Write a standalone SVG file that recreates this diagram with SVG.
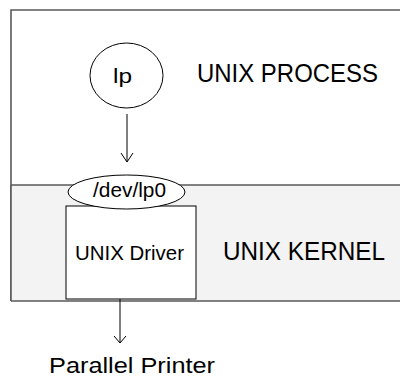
<svg xmlns="http://www.w3.org/2000/svg" width="400" height="378" viewBox="0 0 400 378">
  <style>
    .frame { fill: none; stroke: #5a5a5a; stroke-width: 1.6; }
    .node { fill: #ffffff; stroke: #000000; stroke-width: 1; }
    .wire { fill: none; stroke: #000000; stroke-width: 1; }
    .head { fill: none; stroke: #000000; stroke-width: 1; }
    text { font-family: "Liberation Sans", Arial, sans-serif; fill: #000000; }
  </style>

  <!-- process area and kernel band -->
  <g id="process-area">
    <rect x="11" y="10" width="400" height="175" fill="#ffffff"/>
    <path class="frame" d="M 400 10 H 11 V 301"/>
    <text x="197" y="82" font-size="26" textLength="181" lengthAdjust="spacingAndGlyphs">UNIX PROCESS</text>
  </g>
  <g id="kernel-area">
    <rect x="11" y="185" width="400" height="116" fill="#f3f3f3"/>
    <path class="frame" d="M 11 185 H 400 M 11 301 H 400 M 11 185 V 301"/>
    <text x="223" y="260" font-size="25.5" textLength="162" lengthAdjust="spacingAndGlyphs">UNIX KERNEL</text>
  </g>

  <!-- connectors -->
  <g id="connectors">
    <line class="wire" x1="127" y1="114" x2="127" y2="162"/>
    <polyline class="head" points="121,153 127,162 133,153"/>
    <line class="wire" x1="120" y1="299" x2="120" y2="343"/>
    <polyline class="head" points="114,336 120,343 126,336"/>
  </g>

  <g id="lp">
    <ellipse class="node" cx="126.5" cy="75.5" rx="36.5" ry="32.5"/>
    <text x="113" y="83" font-size="20" textLength="19" lengthAdjust="spacingAndGlyphs">lp</text>
  </g>

  <g id="unix-driver">
    <rect class="node" x="66" y="206" width="130" height="93"/>
    <text x="75" y="260" font-size="19.5" textLength="109" lengthAdjust="spacingAndGlyphs">UNIX Driver</text>
  </g>

  <g id="dev-lp0">
    <ellipse class="node" cx="126.5" cy="192" rx="58.5" ry="17"/>
    <text x="93" y="197" font-size="19.5" textLength="73" lengthAdjust="spacingAndGlyphs">/dev/lp0</text>
  </g>

  <g id="parallel-printer">
    <text x="49" y="373" font-size="22" textLength="166" lengthAdjust="spacingAndGlyphs">Parallel Printer</text>
  </g>
</svg>
